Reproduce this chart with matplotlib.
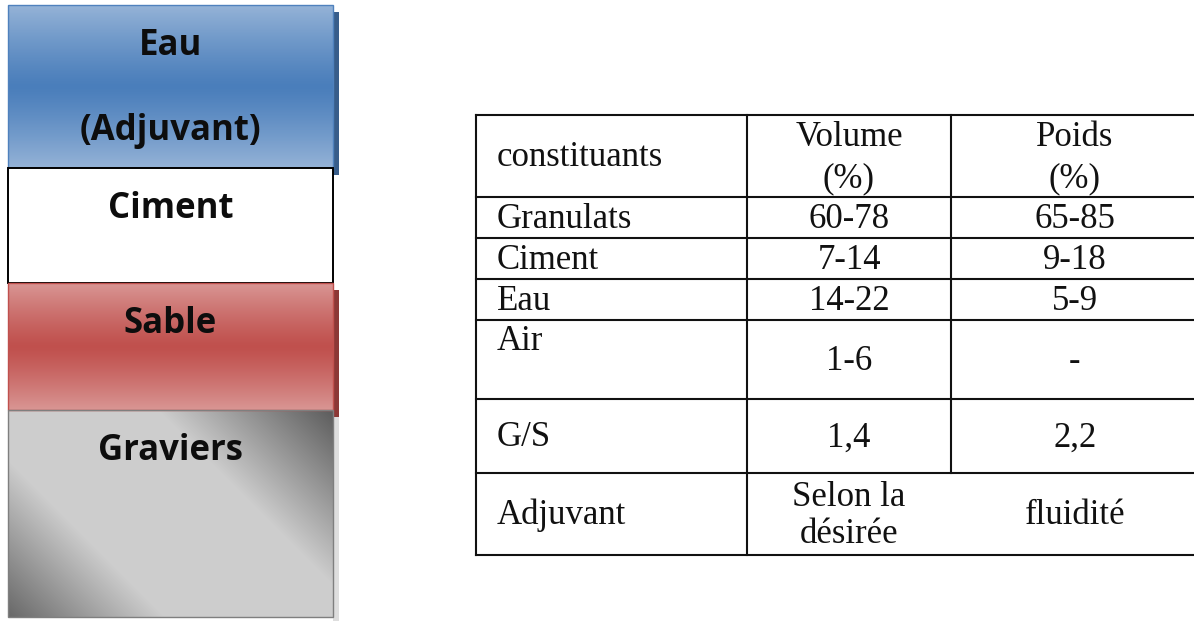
import numpy as np
import matplotlib.pyplot as plt
from matplotlib.patches import Rectangle
from matplotlib.colors import to_rgb

# ====================================
# DATA
# ====================================

layer_names = [
    ["Eau", "", "(Adjuvant)"],
    ["Ciment"],
    ["Sable"],
    ["Graviers"],
]
layer_heights = [163, 115, 127, 207]

table_columns = ["constituants", "Volume\n(%)", "Poids\n(%)"]
constituents = ["Granulats", "Ciment", "Eau", "Air", "G/S", "Adjuvant"]
volume_pct = ["60-78", "7-14", "14-22", "1-6", "1,4"]
weight_pct = ["65-85", "9-18", "5-9", "-", "2,2"]
adjuvant_text = ["Selon la\ndésirée", "fluidité"]

# ====================================
# LAYOUT / STYLE
# ====================================

W, H = 1194, 621

block_x0, block_x1 = 8, 333
block_top = 5

tab_x = [476, 747, 951, 1199]
tab_top = 115
row_heights = [82, 41, 41, 41, 79, 74, 82]

serif = "Liberation Serif"
sans = "Open Sans"
tab_size = 25
block_size = 25


def mix(c1, c2, w):
    c1 = np.array(to_rgb(c1))
    c2 = np.array(to_rgb(c2))
    w = np.asarray(w)[..., None]
    return c1 * (1 - w) + c2 * w


def band_gradient(light, dark, n=256):
    t = np.linspace(0, 1, n)
    v = np.abs(t - 0.5) * 2
    img = mix(dark, light, v ** 1.2)
    return img[:, None, :].repeat(4, axis=1)


def diagonal_gradient(w, h, light, dark):
    xx, yy = np.meshgrid(np.arange(w), np.arange(h))
    d = xx - yy
    t = np.clip((np.abs(d - 50) - 100) / 170, 0, 1)
    return mix(light, dark, t)


fig = plt.figure(figsize=(W / 100, H / 100), dpi=100)
ax = fig.add_axes([0, 0, 1, 1])
ax.set_xlim(0, W)
ax.set_ylim(H, 0)
ax.axis("off")

# ====================================
# LAYER BLOCKS
# ====================================

edges = np.concatenate([[block_top], block_top + np.cumsum(layer_heights)])

fills = [
    ("band", "#95b3d7", "#4a7ebb", "#4f81bd", "#385d8a"),
    ("plain", "white", None, "black", None),
    ("band", "#d99694", "#c0504d", "#c0504d", "#8c3836"),
    ("diag", "#cdcdcd", "#5f5f5f", "#7f7f7f", "#dedede"),
]

for i, names in enumerate(layer_names):

    y0, y1 = edges[i], edges[i + 1]
    kind, c_light, c_dark, c_edge, c_shadow = fills[i]

    if c_shadow is not None:
        ax.add_patch(
            Rectangle(
                (block_x1, y0 + 7),
                6,
                min(y1 - y0, H - y0 - 7),
                facecolor=c_shadow,
                edgecolor="none",
                zorder=1
            )
        )

    if kind == "band":
        ax.imshow(
            band_gradient(c_light, c_dark),
            extent=(block_x0, block_x1, y1, y0),
            aspect="auto",
            interpolation="bilinear",
            zorder=2
        )
    elif kind == "diag":
        ax.imshow(
            diagonal_gradient(block_x1 - block_x0, y1 - y0, c_light, c_dark),
            extent=(block_x0, block_x1, y1, y0),
            aspect="auto",
            interpolation="bilinear",
            zorder=2
        )

    ax.add_patch(
        Rectangle(
            (block_x0, y0),
            block_x1 - block_x0,
            y1 - y0,
            facecolor=c_light if kind == "plain" else "none",
            edgecolor=c_edge,
            linewidth=1.4 if kind == "plain" else 1.0,
            zorder=3
        )
    )

    for j, name in enumerate(names):
        ax.text(
            (block_x0 + block_x1) / 2,
            y0 + 50 + j * 42.5,
            name,
            ha="center",
            va="baseline",
            fontsize=block_size,
            fontweight="bold",
            family=sans,
            color="#0d0d0d",
            zorder=4
        )

# ====================================
# TABLE
# ====================================

row_edges = tab_top + np.concatenate([[0], np.cumsum(row_heights)])
line_kw = dict(color="#111111", linewidth=1.5, solid_capstyle="projecting")

for y in row_edges:
    ax.plot([tab_x[0], tab_x[-1]], [y, y], **line_kw)

ax.plot([tab_x[0], tab_x[0]], [row_edges[0], row_edges[-1]], **line_kw)
ax.plot([tab_x[1], tab_x[1]], [row_edges[0], row_edges[-1]], **line_kw)
ax.plot([tab_x[2], tab_x[2]], [row_edges[0], row_edges[-2]], **line_kw)

label_x = 497
col_centers = [849, 1075]
cap_half = 10.5


def put_lines(x, yc, text, step, ha="center"):
    lines = text.split("\n")
    n = len(lines)
    for k, line in enumerate(lines):
        ax.text(
            x,
            yc + (k - (n - 1) / 2) * step + cap_half,
            line,
            ha=ha,
            va="baseline",
            fontsize=tab_size,
            family=serif,
            color="#111111"
        )


centers = (row_edges[:-1] + row_edges[1:]) / 2

# header
put_lines(label_x, centers[0], table_columns[0], 41, ha="left")
put_lines(col_centers[0], centers[0], table_columns[1], 41)
put_lines(col_centers[1], centers[0], table_columns[2], 41)

# body rows
for i, name in enumerate(constituents):

    yc = centers[i + 1]

    if name == "Air":
        put_lines(label_x, row_edges[i + 1] + 19.5, name, 41, ha="left")
    else:
        put_lines(label_x, yc, name, 41, ha="left")

    if i < len(volume_pct):
        put_lines(col_centers[0], yc, volume_pct[i], 41)
        put_lines(col_centers[1], yc, weight_pct[i], 41)
    else:
        put_lines(col_centers[0], yc, adjuvant_text[0], 37)
        put_lines(col_centers[1], yc, adjuvant_text[1], 37)

plt.savefig("out.png", dpi=100)
plt.close()
